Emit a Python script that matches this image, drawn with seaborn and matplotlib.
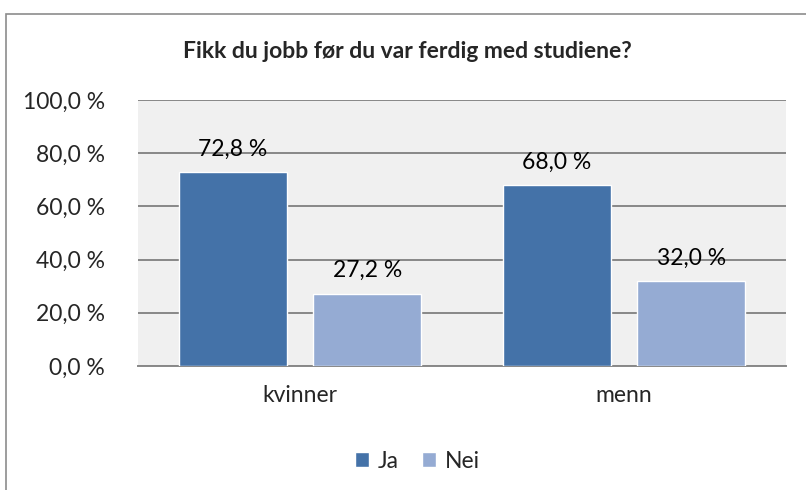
import matplotlib
matplotlib.use("Agg")
import matplotlib.pyplot as plt
import pandas as pd
import seaborn as sns
from matplotlib.patches import Rectangle

groups = ["kvinner", "menn"]
answers = ["Ja", "Nei"]
ja_values = [72.8, 68.0]
nei_values = [27.2, 32.0]
yticks = [0, 20, 40, 60, 80, 100]
title = "Fikk du jobb før du var ferdig med studiene?"

df = pd.DataFrame({
    "group": groups * 2,
    "answer": [answers[0]] * 2 + [answers[1]] * 2,
    "value": ja_values + nei_values,
})

sns.set_style("white")
plt.rcParams["font.family"] = ["Lato", "DejaVu Sans"]

fig = plt.figure(figsize=(8.06, 4.9), dpi=100)
ax = fig.add_axes([138 / 806, 1 - 366 / 490, (786 - 138) / 806, (366 - 100) / 490])

# outer chart border (cropped at right/bottom like the reference)
fig.patches.append(Rectangle((6 / 806, -0.05), 1.0, 1 - 14 / 490 + 0.05,
                             transform=fig.transFigure, fill=False,
                             edgecolor="#8c8c8c", linewidth=1.2))

ax.set_facecolor("#f0f0f0")
sns.barplot(data=df, x="group", y="value", hue="answer",
            palette=["#4472a8", "#95abd3"], saturation=1, width=0.83, gap=0.2,
            edgecolor="white", linewidth=1, ax=ax, zorder=3)

for cont in ax.containers:
    ax.bar_label(cont, labels=[f"{v:.1f} %".replace(".", ",") for v in cont.datavalues],
                 padding=9, fontsize=16.5, color="black")

ax.set_ylim(0, 100)
ax.set_xlim(-0.5, 1.5)
ax.set_yticks(yticks)
ax.set_yticklabels([f"{t:.1f} %".replace(".", ",") for t in yticks])
ax.yaxis.grid(True, color="#888888", linewidth=1.4, zorder=0)
ax.set_axisbelow(True)
for s in ["top", "right", "left"]:
    ax.spines[s].set_visible(False)
ax.spines["bottom"].set_color("#888888")
ax.spines["bottom"].set_linewidth(1.4)
ax.tick_params(axis="y", length=0, pad=24, labelsize=16.5)
ax.tick_params(axis="x", length=0, pad=14, labelsize=16.5)
ax.set_xlabel("")
ax.set_ylabel("")

fig.text(0.505, 1 - 52 / 490, title, ha="center", va="center",
         fontsize=16.5, fontweight="bold")

handles, labels = ax.get_legend_handles_labels()
ax.get_legend().remove()
fig.legend(handles, labels, loc="center", bbox_to_anchor=(0.518, 1 - 461 / 490),
           ncol=2, frameon=False, fontsize=16.5, handlelength=0.6, handleheight=0.6,
           handletextpad=0.4, columnspacing=1.0)

fig.savefig("out.png", dpi=100, facecolor="white")
